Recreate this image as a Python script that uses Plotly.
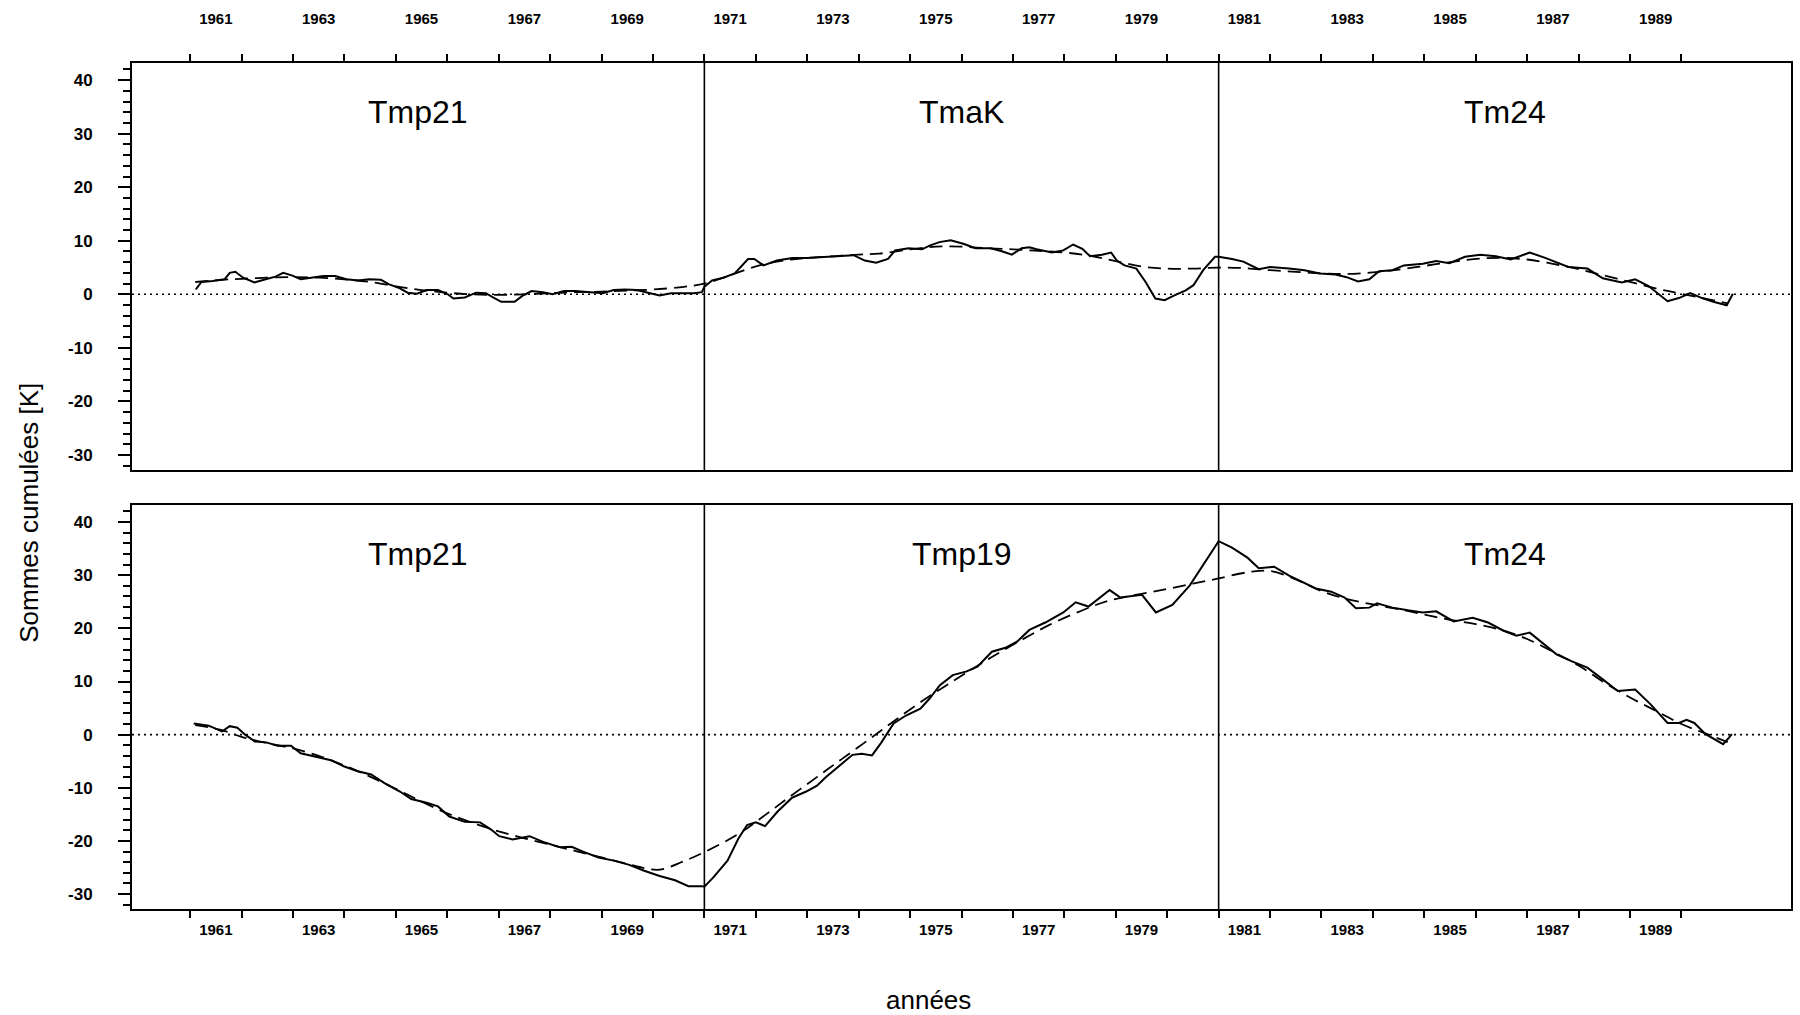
import plotly.graph_objects as go

# ---- data -------------------------------------------------------------
# Top panel: cumulative sums (solid) and smoothed fit (dashed)
top_t = [1961.11, 1961.22, 1961.44, 1961.67, 1961.77, 1961.88, 1962.03, 1962.25, 1962.47, 1962.66,
         1962.81, 1962.99, 1963.15, 1963.37, 1963.59, 1963.82, 1964.04, 1964.26, 1964.48, 1964.71,
         1964.86, 1965.08, 1965.23, 1965.41, 1965.60, 1965.82, 1966.01, 1966.12, 1966.34, 1966.56,
         1966.75, 1966.90, 1967.05, 1967.31, 1967.46, 1967.64, 1967.86, 1968.05, 1968.27, 1968.49,
         1968.79, 1969.02, 1969.24, 1969.46, 1969.68, 1969.91, 1970.13, 1970.35, 1970.58, 1970.80,
         1970.95,
         1971.00, 1971.15, 1971.37, 1971.59, 1971.74, 1971.85, 1971.97, 1972.15, 1972.41, 1972.71,
         1973.00, 1973.30, 1973.60, 1973.90, 1974.12, 1974.34, 1974.57, 1974.71, 1974.97, 1975.23,
         1975.38, 1975.57, 1975.79, 1976.05, 1976.27, 1976.57, 1976.80, 1976.98, 1977.17, 1977.32,
         1977.46, 1977.76, 1977.98, 1978.17, 1978.35, 1978.50, 1978.73, 1978.91, 1979.02, 1979.17,
         1979.40, 1979.58, 1979.77, 1979.95, 1980.14, 1980.36, 1980.51, 1980.70, 1980.93,
         1981.00, 1981.26, 1981.48, 1981.78, 1982.00, 1982.37, 1982.67, 1982.97, 1983.27, 1983.49,
         1983.71, 1983.93, 1984.12, 1984.38, 1984.60, 1984.97, 1985.23, 1985.49, 1985.79, 1986.09,
         1986.39, 1986.68, 1987.05, 1987.35, 1987.57, 1987.80, 1988.17, 1988.47, 1988.84, 1989.10,
         1989.36, 1989.73, 1989.95, 1990.17, 1990.40, 1990.62, 1990.88, 1990.96, 1991.00]
top_v = [0.9, 2.3, 2.5, 2.8, 4.0, 4.2, 3.1, 2.2, 2.8, 3.3,
         4.0, 3.5, 2.8, 3.1, 3.4, 3.4, 2.8, 2.6, 2.8, 2.7,
         1.9, 1.1, 0.3, 0.1, 0.8, 0.8, 0.0, -0.8, -0.6, 0.3,
         0.2, -0.6, -1.4, -1.4, -0.3, 0.6, 0.4, 0.0, 0.6, 0.6,
         0.4, 0.2, 0.8, 0.9, 0.8, 0.3, -0.2, 0.2, 0.2, 0.2,
         0.4,
         1.4, 2.6, 3.1, 3.9, 5.4, 6.6, 6.6, 5.4, 6.3, 6.8,
         6.8, 7.0, 7.1, 7.3, 6.3, 5.9, 6.6, 8.2, 8.6, 8.4,
         9.1, 9.75, 10.1, 9.4, 8.6, 8.6, 8.0, 7.4, 8.6, 8.8,
         8.4, 7.8, 8.2, 9.3, 8.5, 7.1, 7.4, 7.8, 6.3, 5.4,
         4.8, 2.3, -0.8, -1.1, -0.2, 0.75, 1.7, 4.5, 7.0,
         7.0, 6.6, 6.1, 4.7, 5.1, 4.8, 4.5, 3.9, 3.7, 3.2,
         2.4, 2.8, 4.3, 4.5, 5.4, 5.7, 6.2, 5.8, 7.0, 7.4,
         7.1, 6.5, 7.8, 6.8, 6.0, 5.1, 4.8, 3.0, 2.2, 2.8,
         1.55, -1.3, -0.7, 0.25, -0.7, -1.4, -2.05, -0.5, 0.1]

top_fit_t = [1961.1, 1961.6, 1962.0, 1962.5, 1963.0, 1963.5, 1964.0, 1964.5, 1965.0, 1965.5,
             1966.0, 1966.5, 1967.0, 1967.5, 1968.0, 1968.5, 1969.0, 1969.5, 1970.0, 1970.6,
             1971.0, 1971.4, 1971.8, 1972.2, 1972.6, 1973.0, 1973.5, 1974.0, 1974.4, 1975.0,
             1975.5, 1976.0, 1976.5, 1977.0, 1977.5, 1978.0, 1978.5, 1979.0, 1979.5, 1980.0,
             1980.5, 1981.0, 1981.5, 1982.0, 1982.5, 1983.0, 1983.5, 1984.0, 1984.5, 1985.0,
             1985.5, 1986.0, 1986.5, 1987.0, 1987.5, 1988.0, 1988.5, 1989.0, 1989.5, 1989.8,
             1990.3, 1990.9]
top_fit_v = [2.3, 2.7, 2.9, 3.1, 3.2, 3.1, 2.8, 2.3, 1.5, 0.8,
             0.3, 0.0, -0.1, 0.0, 0.2, 0.4, 0.5, 0.7, 0.9, 1.4,
             2.0, 3.2, 4.6, 5.7, 6.4, 6.8, 7.1, 7.4, 7.6, 8.4,
             8.9, 8.9, 8.6, 8.4, 8.1, 7.8, 7.2, 6.2, 5.2, 4.8,
             4.8, 5.0, 4.9, 4.5, 4.2, 3.9, 3.8, 4.1, 4.6, 5.3,
             6.0, 6.6, 6.8, 6.5, 5.7, 4.7, 3.5, 2.3, 1.1, 0.5,
             -0.5, -1.7]

# Bottom panel: cumulative sums (solid) and smoothed fit (dashed)
bot_t = [1961.07, 1961.36, 1961.62, 1961.77, 1961.92, 1962.07, 1962.26, 1962.48, 1962.70, 1962.96,
         1963.15, 1963.44, 1963.74, 1964.00, 1964.26, 1964.52, 1964.78, 1965.08, 1965.30, 1965.60,
         1965.82, 1966.04, 1966.34, 1966.64, 1966.86, 1967.01, 1967.27, 1967.60, 1967.90, 1968.20,
         1968.42, 1968.64, 1968.94, 1969.24, 1969.54, 1969.83, 1970.13, 1970.43, 1970.69, 1970.95,
         1971.00, 1971.17, 1971.45, 1971.66, 1971.83, 1972.00, 1972.18, 1972.42, 1972.70, 1972.98,
         1973.19, 1973.36, 1973.60, 1973.88, 1974.06, 1974.26, 1974.44, 1974.68, 1974.92, 1975.20,
         1975.38, 1975.58, 1975.83, 1976.10, 1976.31, 1976.59, 1976.87, 1977.08, 1977.32, 1977.63,
         1977.98, 1978.22, 1978.47, 1978.88, 1979.09, 1979.51, 1979.78, 1980.10, 1980.44, 1980.76,
         1981.00, 1981.26, 1981.56, 1981.78, 1982.08, 1982.37, 1982.60, 1982.89, 1983.19, 1983.45,
         1983.67, 1983.93, 1984.08, 1984.38, 1984.68, 1984.97, 1985.23, 1985.57, 1985.94, 1986.24,
         1986.53, 1986.79, 1987.05, 1987.32, 1987.57, 1987.87, 1988.17, 1988.47, 1988.76, 1989.10,
         1989.40, 1989.73, 1989.95, 1990.10, 1990.25, 1990.47, 1990.66, 1990.81, 1990.92, 1990.98]
bot_v = [2.1, 1.7, 0.6, 1.6, 1.3, 0.0, -1.3, -1.45, -2.1, -2.1,
         -3.5, -4.1, -4.8, -6.0, -6.9, -7.5, -9.1, -10.7, -12.1, -12.8,
         -13.5, -15.4, -16.4, -16.5, -17.9, -19.1, -19.7, -19.1, -20.3, -21.2,
         -21.1, -22.0, -23.1, -23.7, -24.5, -25.6, -26.6, -27.4, -28.5, -28.5,
         -28.6, -26.9, -23.7, -19.6, -17.0, -16.5, -17.2, -14.5, -11.9, -10.7,
         -9.6, -8.0, -6.1, -3.8, -3.6, -3.9, -1.5, 2.1, 3.6, 4.9,
         6.8, 9.3, 11.2, 11.9, 12.8, 15.6, 16.4, 17.5, 19.7, 21.1,
         23.0, 24.9, 24.1, 27.2, 25.8, 26.3, 23.0, 24.4, 28.1, 32.9,
         36.4, 35.2, 33.3, 31.3, 31.6, 29.9, 28.8, 27.5, 26.9, 25.8,
         23.8, 23.9, 24.7, 23.9, 23.4, 23.0, 23.2, 21.3, 22.0, 21.1,
         19.6, 18.6, 19.2, 17.1, 15.1, 13.8, 12.6, 10.4, 8.2, 8.5,
         5.7, 2.2, 2.2, 2.8, 2.2, 0.1, -0.9, -1.8, -0.6, 0.1]

bot_fit_t = [1961.1, 1961.6, 1962.0, 1962.5, 1963.0, 1963.5, 1964.0, 1964.5, 1965.0, 1965.5,
             1966.0, 1966.5, 1967.0, 1967.5, 1968.0, 1968.5, 1969.0, 1969.5, 1969.83, 1970.13,
             1970.58, 1971.0, 1971.66, 1972.2, 1972.7, 1973.2, 1973.67, 1974.2, 1974.65, 1975.2,
             1975.76, 1976.4, 1977.0, 1977.7, 1978.4, 1978.9, 1979.5, 1980.0, 1980.5, 1981.0,
             1981.6, 1982.0, 1982.5, 1983.0, 1983.5, 1984.0, 1984.5, 1985.0, 1985.5, 1986.0,
             1986.5, 1987.0, 1987.5, 1988.0, 1988.5, 1989.0, 1989.5, 1990.0, 1990.5, 1990.9]
bot_fit_v = [1.8, 0.9, -0.4, -1.6, -2.6, -4.0, -5.8, -7.9, -10.2, -12.6,
             -14.8, -16.6, -18.2, -19.5, -20.7, -21.9, -23.1, -24.3, -25.1, -25.4,
             -23.9, -22.1, -18.7, -15.0, -11.4, -7.9, -4.6, -0.9, 2.3, 6.1,
             9.6, 13.5, 16.9, 20.6, 23.6, 25.3, 26.5, 27.4, 28.4, 29.4,
             30.6, 30.8, 29.2, 27.0, 25.5, 24.5, 23.6, 22.6, 21.6, 20.8,
             19.7, 18.0, 15.6, 13.0, 9.8, 7.0, 4.5, 2.0, 0.1, -1.4]

# Periods and the variable used in each one
breaks = [1971, 1981]
top_names = ["Tmp21", "TmaK", "Tm24"]
bot_names = ["Tmp21", "Tmp19", "Tm24"]
name_x = [1965.44, 1976.0, 1986.57]

label_years = list(range(1961, 1990, 2))
tick_years = list(range(1961, 1991))
y_major = [-30, -20, -10, 0, 10, 20, 30, 40]
y_minor = [v for v in range(-32, 43, 2) if v % 10 != 0]

X_RANGE = [1959.87, 1992.13]
Y_RANGE = [-32.8, 43.2]
FONT = "Liberation Sans, Arial, Helvetica, sans-serif"

# ---- figure -----------------------------------------------------------
fig = go.Figure()

panels = [("x2", "y2", top_t, top_v, top_fit_t, top_fit_v),
          ("x", "y", bot_t, bot_v, bot_fit_t, bot_fit_v)]
for xa, ya, t, v, ft, fv in panels:
    fig.add_trace(go.Scatter(x=ft, y=fv, mode="lines", xaxis=xa, yaxis=ya,
                             line=dict(color="black", width=1.8, dash="13px,7px", shape="spline",
                                       smoothing=1.0),
                             showlegend=False, hoverinfo="skip"))
    fig.add_trace(go.Scatter(x=t, y=v, mode="lines", xaxis=xa, yaxis=ya,
                             line=dict(color="black", width=2.0),
                             showlegend=False))

common_x = dict(range=X_RANGE, showgrid=False, zeroline=False, showline=True,
                linecolor="black", linewidth=2, mirror=True,
                tickmode="array", tickvals=[y + 0.5 for y in label_years],
                ticktext=[str(y) for y in label_years],
                ticks="outside", ticklen=0, tickcolor="black",
                tickfont=dict(family=FONT, size=15, color="black", weight="bold"),
                minor=dict(tickmode="array", tickvals=tick_years, ticks="outside",
                           ticklen=7, tickwidth=1.5, tickcolor="black", showgrid=False))

common_y = dict(range=Y_RANGE, showgrid=False, zeroline=False, showline=True,
                linecolor="black", linewidth=2, mirror=True,
                tickmode="array", tickvals=y_major, ticktext=[str(v) for v in y_major],
                ticks="outside", ticklen=12, tickwidth=1.5, tickcolor="black",
                ticklabelstandoff=22,
                tickfont=dict(family=FONT, size=17, color="black", weight="bold"),
                minor=dict(tickmode="array", tickvals=y_minor, ticks="outside",
                           ticklen=7, tickwidth=1.5, tickcolor="black", showgrid=False))

fig.update_layout(
    width=1800, height=1015,
    margin=dict(l=132, r=7, t=63, b=106),
    paper_bgcolor="white", plot_bgcolor="white",
    font=dict(family=FONT, color="black"),
    xaxis=dict(common_x, anchor="y", side="bottom", ticklabelstandoff=6),
    xaxis2=dict(common_x, anchor="y2", side="top", ticklabelstandoff=31),
    yaxis=dict(common_y, anchor="x", domain=[0.0, 0.4775]),
    yaxis2=dict(common_y, anchor="x2", domain=[0.519, 1.0]),
)

shapes = []
for xa, ya in [("x2", "y2"), ("x", "y")]:
    # zero reference line
    shapes.append(dict(type="line", xref=f"{xa} domain", yref=ya, x0=0, x1=1, y0=0, y1=0,
                       line=dict(color="black", width=1.6, dash="2px,4px")))
    # period boundaries
    for b in breaks:
        shapes.append(dict(type="line", xref=xa, yref=f"{ya} domain", x0=b, x1=b, y0=0, y1=1,
                           line=dict(color="black", width=1.6)))
fig.update_layout(shapes=shapes)

annotations = []
for names, xa, ya in [(top_names, "x2", "y2"), (bot_names, "x", "y")]:
    for nm, nx in zip(names, name_x):
        annotations.append(dict(text=nm, x=nx, y=34, xref=xa, yref=ya, showarrow=False,
                                font=dict(family=FONT, size=32, color="black")))
annotations.append(dict(text="Sommes cumulées [K]", x=-0.0725, y=0.468, xref="paper", yref="paper",
                        textangle=-90, showarrow=False,
                        font=dict(family=FONT, size=26, color="black")))
annotations.append(dict(text="années", x=0.4804, y=-0.128, xref="paper", yref="paper",
                        showarrow=False, font=dict(family=FONT, size=26, color="black")))
fig.update_layout(annotations=annotations)

fig.write_html("out.html")
